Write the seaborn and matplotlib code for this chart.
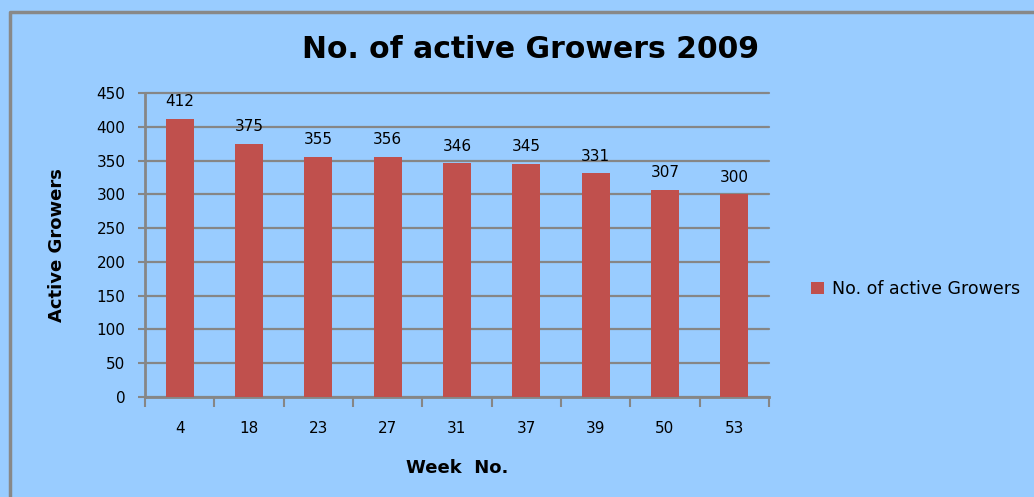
import matplotlib
matplotlib.use("Agg")
import matplotlib.pyplot as plt
from matplotlib.lines import Line2D
import seaborn as sns
import numpy as np
import pandas as pd

weeks = ["4", "18", "23", "27", "31", "37", "39", "50", "53"]
growers = [412, 375, 355, 356, 346, 345, 331, 307, 300]
y_ticks = [0, 50, 100, 150, 200, 250, 300, 350, 400, 450]
series_name = "No. of active Growers"
title = "No. of active Growers 2009"

bg = "#99CCFF"
bar_color = "#C0504D"
grid_color = "#868686"

sns.set_theme(style="white")
plt.rcParams['font.family'] = ['DejaVu Sans']
plt.rcParams['text.color'] = 'black'
plt.rcParams['axes.labelcolor'] = 'black'
plt.rcParams['xtick.color'] = 'black'
plt.rcParams['ytick.color'] = 'black'

fig = plt.figure(figsize=(10.34, 4.97), dpi=100)
fig.patch.set_facecolor(bg)
W, H = 1034, 497
ax = fig.add_axes([145 / W, 1 - 397 / H, (769 - 145) / W, (397 - 93) / H])
ax.set_facecolor(bg)

df = pd.DataFrame({"week": weeks, "growers": growers})
sns.barplot(data=df, x="week", y="growers", color=bar_color, width=0.4,
            saturation=1, ax=ax, label=series_name, zorder=3, linewidth=0)

ax.set_xlim(-0.5, len(weeks) - 0.5)
ax.set_ylim(0, 450)
ax.set_yticks(y_ticks)
ax.set_yticklabels([str(v) for v in y_ticks], fontsize=11, color="black")
ax.yaxis.grid(True, color=grid_color, linewidth=1.6, zorder=0)
ax.xaxis.grid(False)
for gl in ax.get_ygridlines():
    gl.set_clip_on(False)

# category boundary ticks (Excel style)
ax.set_xticks(np.arange(-0.5, len(weeks), 1.0), minor=True)
ax.tick_params(axis="x", which="minor", length=7, width=1.5, color=grid_color, bottom=True)
ax.tick_params(axis="x", which="major", length=0, pad=17, labelsize=11, labelcolor="black")
ax.tick_params(axis="y", which="major", length=5, width=1.5, color=grid_color, left=True,
               pad=9, labelcolor="black")

for s in ["top", "right"]:
    ax.spines[s].set_visible(False)
for s in ["left", "bottom"]:
    ax.spines[s].set_color(grid_color)
    ax.spines[s].set_linewidth(2)

for i, v in enumerate(growers):
    ax.annotate(str(v), (i, v), xytext=(0, 7), textcoords="offset points",
                ha="center", va="bottom", fontsize=11, color="black")

ax.set_xlabel("Week  No.", fontsize=13, fontweight="bold", labelpad=17, color="black")
ax.set_ylabel("Active Growers", fontsize=13, fontweight="bold", labelpad=22, color="black")

fig.text(530 / W, 1 - 49 / H, title, ha="center", va="center",
         fontsize=21.5, fontweight="bold", color="black")

leg = ax.legend(loc="center left", bbox_to_anchor=(795 / W, 1 - 289 / H),
                bbox_transform=fig.transFigure, frameon=False, fontsize=12.5,
                handlelength=0.75, handleheight=0.75, handletextpad=0.5)
for t in leg.get_texts():
    t.set_color("black")

# outer chart border (top and left visible)
fig.add_artist(Line2D([10 / W, 10 / W, 1.0], [0.0, 1 - 12 / H, 1 - 12 / H],
                      transform=fig.transFigure, color="#888888", linewidth=2.5))

fig.savefig("out.png", dpi=100, facecolor=bg)
